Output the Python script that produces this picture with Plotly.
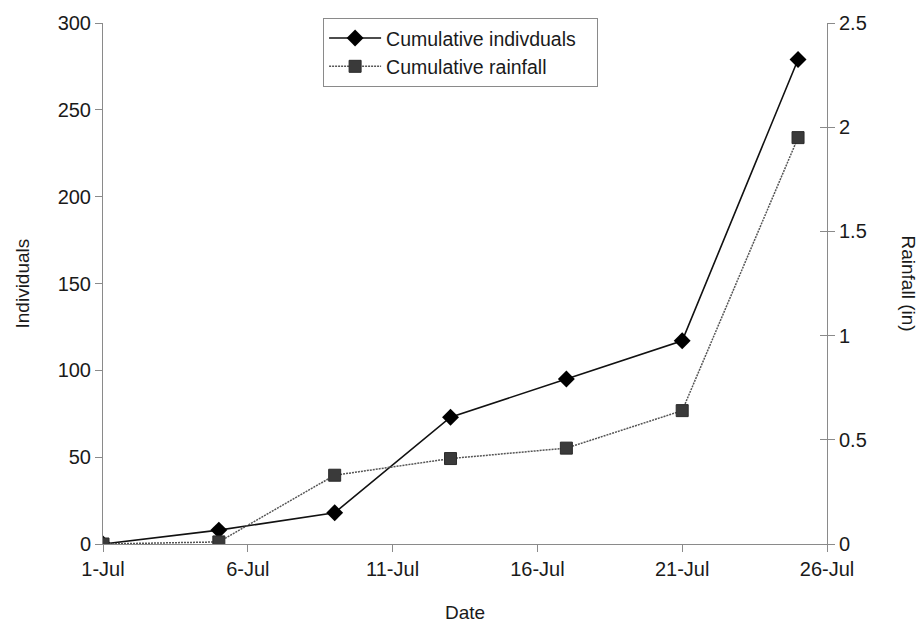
import plotly.graph_objects as go

dates = ["2007-07-01", "2007-07-05", "2007-07-09", "2007-07-13",
         "2007-07-17", "2007-07-21", "2007-07-25"]
individuals = [0, 8, 18, 73, 95, 117, 279]
rainfall = [0, 0.01, 0.33, 0.41, 0.46, 0.64, 1.95]

FONT = "Liberation Sans, Arial, sans-serif"
AX = "#8a8a8a"

fig = go.Figure()
fig.add_trace(go.Scatter(
    x=dates, y=individuals, name="Cumulative indivduals\u00a0\u00a0\u00a0",
    mode="lines+markers",
    line=dict(color="#111111", width=1.6),
    marker=dict(symbol="diamond", size=13, color="#000000"),
    yaxis="y"))
fig.add_trace(go.Scatter(
    x=dates, y=rainfall, name="Cumulative rainfall",
    mode="lines+markers",
    line=dict(color="#555555", width=1.5, dash="2px,1px"),
    marker=dict(symbol="square", size=12, color="#3a3a3a",
                line=dict(color="#2a2a2a", width=1)),
    yaxis="y2"))

fig.update_layout(
    width=921, height=625,
    margin=dict(l=103, r=94, t=20, b=81),
    paper_bgcolor="white", plot_bgcolor="white",
    font=dict(family=FONT, size=19, color="#1a1a1a"),
    showlegend=True,
    legend=dict(x=0.304, y=1.01, xanchor="left", yanchor="top",
                bgcolor="white", bordercolor="#8a8a8a", borderwidth=1,
                font=dict(size=19.5), itemwidth=52, tracegroupgap=0),
    xaxis=dict(type="date", range=["2007-07-01", "2007-07-26"],
               tick0="2007-07-01", dtick=432000000, tickformat="%-d-%b",
               showgrid=False, zeroline=False, showline=True,
               linecolor=AX, linewidth=1, ticks="outside", ticklen=7,
               tickcolor=AX, tickfont=dict(size=20)),
    yaxis=dict(range=[0, 300], dtick=50, showgrid=False, zeroline=False,
               showline=True, linecolor=AX, linewidth=1,
               ticks="outside", ticklen=7, tickcolor=AX,
               tickfont=dict(size=20)),
    yaxis2=dict(range=[0, 2.5], dtick=0.5, overlaying="y", side="right",
                showgrid=False, zeroline=False, showline=True,
                linecolor=AX, linewidth=1, ticks="outside", ticklen=7,
                tickcolor=AX, tickfont=dict(size=20)),
    yaxis3=dict(range=[0, 2.5], dtick=0.5, overlaying="y", side="right",
                showgrid=False, zeroline=False, showline=False,
                showticklabels=False, ticks="inside", ticklen=7,
                tickcolor=AX),
    annotations=[
        dict(text="Individuals", x=0, y=0.5, xref="paper", yref="paper",
             xshift=-81, showarrow=False, textangle=-90, font=dict(size=19),
             xanchor="center", yanchor="middle"),
        dict(text="Rainfall (in)", x=1.0, y=0.5, xref="paper", yref="paper",
             xshift=81, showarrow=False, textangle=90, font=dict(size=19),
             xanchor="center", yanchor="middle"),
        dict(text="Date", x=0.5, y=0, xref="paper", yref="paper",
             yshift=-68, showarrow=False, font=dict(size=19),
             xanchor="center", yanchor="middle"),
    ],
)
# invisible trace to activate the crossing-tick axis
fig.add_trace(go.Scatter(x=[dates[0]], y=[None], yaxis="y3",
                         showlegend=False, hoverinfo="skip"))

fig.write_html("out.html")
